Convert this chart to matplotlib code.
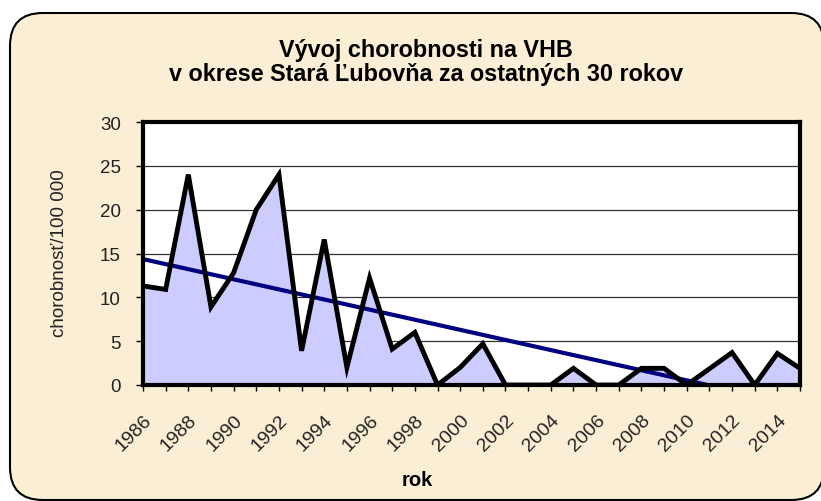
import numpy as np
import matplotlib.pyplot as plt
from matplotlib.patches import FancyBboxPatch

# incidence per 100 000, Stara Lubovna district
years = list(range(1986, 2016))
values = [11.3, 10.9, 24.0, 8.9, 12.8, 20.0, 24.0, 3.9, 16.6, 2.0,
          12.2, 4.1, 6.0, 0.0, 2.0, 4.7, 0.0, 0.0, 0.0, 1.9,
          0.0, 0.0, 1.9, 1.9, 0.0, 1.85, 3.7, 0.0, 3.6, 1.9]
year_ticks = list(range(1986, 2016, 2))
y_ticks = [0, 5, 10, 15, 20, 25, 30]

plt.rcParams['font.family'] = ['Liberation Sans', 'DejaVu Sans']

W, H = 821, 502
fig = plt.figure(figsize=(W / 100, H / 100), dpi=100)
fig.patch.set_facecolor('white')

# rounded parchment frame (px: left 10, top 14, bottom 501, right past the edge)
frame = FancyBboxPatch((10 / W, 1 / H), 814 / W, 487 / H,
                       boxstyle='round,pad=0,rounding_size=0.04',
                       transform=fig.transFigure, facecolor='#faefd5',
                       edgecolor='black', linewidth=1.5, zorder=-1,
                       mutation_aspect=W / H)
fig.patches.append(frame)

ax = fig.add_axes([143 / W, 1 - 386 / H, 657 / W, 263 / H])
ax.set_facecolor('white')

x = np.array(years)
y = np.array(values)
ax.fill_between(x, y, 0, color='#ccccff', zorder=1)
ax.plot(x, y, color='black', linewidth=3.5, solid_joinstyle='miter', zorder=3)

# linear trend
k, q = np.polyfit(x, y, 1)
trend = k * x + q
ax.plot(x, trend, color='#000080', linewidth=3, zorder=2)

ax.set_xlim(1986, 2015)
ax.set_ylim(0, 30)
ax.set_yticks(y_ticks)
ax.set_xticks(years)
ax.set_xticklabels([str(t) if t in year_ticks else '' for t in years],
                   rotation=45, ha='right', va='top', rotation_mode='anchor',
                   fontsize=14)
ax.tick_params(axis='y', labelsize=13.5, length=5, width=1, pad=11, labelcolor='#222222')
ax.tick_params(axis='x', length=4, width=1, pad=15, labelcolor='#222222')
ax.grid(axis='y', color='#333333', linewidth=0.9, zorder=0)
ax.set_axisbelow(True)
for s in ax.spines.values():
    s.set_linewidth(3)
    s.set_zorder(5)

fig.text(59 / W, 1 - 253 / H, 'chorobnosť/100 000', rotation=90, ha='center', va='center',
         fontsize=13.5, color='#222222')
fig.text(417 / W, 1 - 481 / H, 'rok', ha='center', va='center',
         fontsize=14.5, fontweight='bold')

fig.text(426 / W, 1 - 51 / H, 'Vývoj chorobnosti na VHB', ha='center', va='center',
         fontsize=16.8, fontweight='bold')
fig.text(426 / W, 1 - 75 / H, 'v okrese Stará Ľubovňa za ostatných 30 rokov',
         ha='center', va='center', fontsize=16.8, fontweight='bold')

fig.savefig('out.png', dpi=100)
